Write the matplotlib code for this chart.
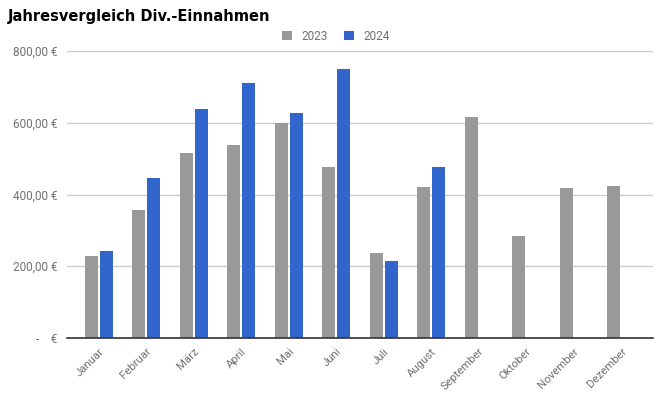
import matplotlib
matplotlib.use("Agg")
import matplotlib.pyplot as plt
import numpy as np

months = ["Januar", "Februar", "März", "April", "Mai", "Juni", "Juli",
          "August", "September", "Oktober", "November", "Dezember"]
values_2023 = [228, 358, 515, 537, 600, 478, 237, 421, 616, 284, 418, 423]
values_2024 = [242, 446, 637, 710, 626, 749, 215, 476, None, None, None, None]
y_ticks = [0, 200, 400, 600, 800]
y_tick_labels = ["-    €", "200,00 €", "400,00 €", "600,00 €", "800,00 €"]
series_names = ["2023", "2024"]

c23 = "#999999"
c24 = "#3366cc"

fig = plt.figure(figsize=(6.6, 3.96), dpi=100)
ax = fig.add_axes([67/660, 1-338/396, (653-67)/660, (338-51)/396])

x = np.arange(len(months))
w = 0.275
off = 0.158
v24 = [np.nan if v is None else v for v in values_2024]
ax.bar(x - off, values_2023, w, color=c23, label=series_names[0], zorder=3)
ax.bar(x + off, v24, w, color=c24, label=series_names[1], zorder=3)

ax.set_xlim(-0.67, 11.67)
ax.set_ylim(0, 800)
ax.set_yticks(y_ticks)
ax.set_yticklabels(y_tick_labels, fontfamily="Roboto", fontsize=8.5, color="#707070")
ax.grid(axis="y", color="#cccccc", linewidth=1, zorder=0)
ax.set_xticks(x)
ax.set_xticklabels(months, rotation=45, ha="right", rotation_mode="anchor",
                   fontfamily="Roboto", fontsize=8.2, color="#707070")
ax.tick_params(axis="both", length=0)
ax.tick_params(axis="x", pad=6)
ax.tick_params(axis="y", pad=7)
for s in ["top", "right", "left"]:
    ax.spines[s].set_visible(False)
ax.spines["bottom"].set_color("#333333")
ax.spines["bottom"].set_linewidth(1.2)
ax.spines["bottom"].set_zorder(4)

fig.text(8/660, 1-17/396, "Jahresvergleich Div.-Einnahmen", fontfamily="DejaVu Sans",
         fontweight="bold", fontsize=10.5, va="center", ha="left", color="#000000")

leg = fig.legend(loc="center", bbox_to_anchor=(336/660, 1-36/396), ncol=2, frameon=False,
                 prop={"family": "Roboto", "size": 8.5}, handlelength=0.8, handleheight=0.8,
                 columnspacing=1.4, handletextpad=0.8)
for t in leg.get_texts():
    t.set_color("#707070")

fig.savefig("out.png", dpi=100)
